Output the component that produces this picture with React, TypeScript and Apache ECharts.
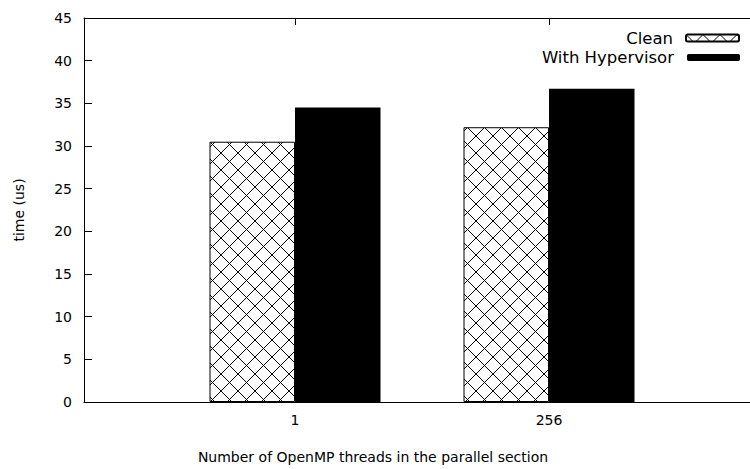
import React, { useEffect, useRef } from "react";
import * as echarts from "echarts";

const categories = ["1", "256"];
const seriesNames = ["Clean", "With Hypervisor"];
const cleanValues = [30.5, 32.2];
const hypervisorValues = [34.5, 36.7];
const yMin = 0;
const yMax = 45;
const yStep = 5;

const FONT = "DejaVu Sans";
const AXIS_FS = 14;
const LEGEND_FS = 16.5;

function makeHatch(size: number): string {
  const c = document.createElement("canvas");
  c.width = size;
  c.height = size;
  const ctx = c.getContext("2d")!;
  ctx.fillStyle = "#ffffff";
  ctx.fillRect(0, 0, size, size);
  ctx.strokeStyle = "#000000";
  ctx.lineWidth = 1;
  ctx.beginPath();
  ctx.moveTo(0, 0);
  ctx.lineTo(size, size);
  ctx.moveTo(size, 0);
  ctx.lineTo(0, size);
  ctx.stroke();
  return c.toDataURL();
}

export default function App() {
  const ref = useRef<HTMLDivElement>(null);
  useEffect(() => {
    if (!ref.current) return;
    const chart = echarts.init(ref.current, undefined, { renderer: "svg" });
    const tile = 17;
    const hatch = {
      image: makeHatch(tile),
      repeat: "repeat",
      imageWidth: tile,
      imageHeight: tile,
    } as any;
    const xMin = -0.8307;
    const xMax = 1.7913;
    const tickIdx = categories.map((_, i) => i);
    const axisLineStyle = { color: "#000", width: 1 };
    const legendCommon = {
      right: 5,
      align: "right",
      orient: "vertical",
      itemWidth: 53,
      itemHeight: 7,
      textStyle: { fontFamily: FONT, fontSize: LEGEND_FS, color: "#000", padding: [0, 8, 0, 0] },
      selectedMode: false,
    };
    chart.setOption({
      animation: false,
      textStyle: { fontFamily: FONT, color: "#000" },
      grid: { left: 84, right: 0, top: 18, bottom: 62, containLabel: false },
      legend: [
        { ...legendCommon, data: [seriesNames[0]], top: 24.5 },
        { ...legendCommon, data: [seriesNames[1]], top: 44 },
      ],
      xAxis: [
        {
          type: "value",
          min: xMin,
          max: xMax,
          position: "bottom",
          name: "Number of OpenMP threads in the parallel section",
          nameLocation: "middle",
          nameGap: 48,
          nameTextStyle: { fontFamily: FONT, fontSize: AXIS_FS, color: "#000", padding: [0, 88, 0, 0] },
          axisLine: { show: true, onZero: false, lineStyle: axisLineStyle },
          axisTick: { show: true, inside: true, length: 7, customValues: tickIdx, lineStyle: axisLineStyle },
          axisLabel: {
            show: true,
            customValues: tickIdx,
            margin: 11,
            fontFamily: FONT,
            fontSize: AXIS_FS,
            color: "#000",
            formatter: (v: number) => categories[Math.round(v)] ?? "",
          },
          splitLine: { show: false },
        },
        {
          type: "value",
          min: xMin,
          max: xMax,
          position: "top",
          axisLine: { show: true, onZero: false, lineStyle: axisLineStyle },
          axisTick: { show: true, inside: true, length: 7, customValues: tickIdx, lineStyle: axisLineStyle },
          axisLabel: { show: false },
          splitLine: { show: false },
        },
      ],
      yAxis: {
        type: "value",
        min: yMin,
        max: yMax,
        interval: yStep,
        name: "time (us)",
        nameLocation: "middle",
        nameGap: 58,
        nameTextStyle: { fontFamily: FONT, fontSize: AXIS_FS, color: "#000" },
        axisLine: { show: true, onZero: false, lineStyle: axisLineStyle },
        axisTick: { show: true, inside: true, length: 8, lineStyle: axisLineStyle },
        axisLabel: { margin: 12, fontFamily: FONT, fontSize: AXIS_FS, color: "#000" },
        splitLine: { show: false },
      },
      series: [
        {
          name: seriesNames[0],
          type: "bar",
          xAxisIndex: 0,
          barWidth: 85.5,
          barGap: "0%",
          data: cleanValues.map((v, i) => [i, v]),
          itemStyle: { color: hatch, borderColor: "#000", borderWidth: 1 },
        },
        {
          name: seriesNames[1],
          type: "bar",
          xAxisIndex: 0,
          barWidth: 85.5,
          barGap: "0%",
          data: hypervisorValues.map((v, i) => [i, v]),
          itemStyle: { color: "#000", borderColor: "#000", borderWidth: 0 },
        },
      ],
    });
    return () => chart.dispose();
  }, []);
  return (
    <div
      ref={ref}
      style={{ position: "fixed", left: 0, top: 0, width: 750, height: 469, background: "#fff" }}
    />
  );
}
